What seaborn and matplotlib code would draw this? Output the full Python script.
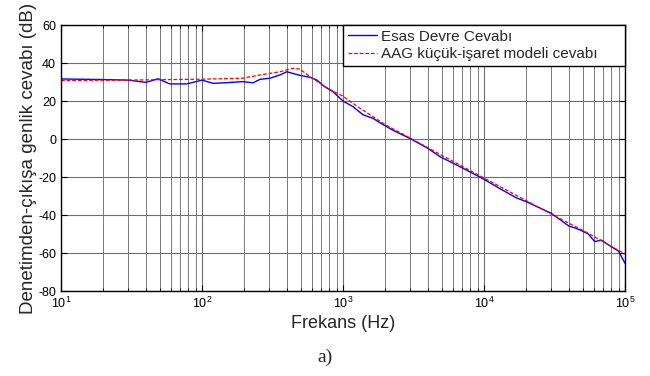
import numpy as np
import pandas as pd
import seaborn as sns
import matplotlib.pyplot as plt
from matplotlib.ticker import LogLocator, NullFormatter

# frequency response
freq_esas = [10, 20, 30, 40, 49, 59, 78, 100, 120, 146, 195, 230, 258, 303, 357, 400,
             495, 583, 654, 742, 850, 1000, 1180, 1385, 1630, 1890, 2250, 3000, 4000,
             4880, 6770, 10000, 12900, 17000, 20000, 30000, 40000, 45000, 50000, 55000,
             61000, 68000, 80000, 90000, 100000]
db_esas = [31.6, 31.3, 31.0, 29.8, 31.7, 29.0, 29.0, 31.0, 29.3, 29.6, 30.2, 29.6, 31.4,
           32.0, 33.7, 35.4, 33.5, 32.5, 31.0, 27.5, 24.9, 20.0, 17.0, 12.8, 10.9, 7.9,
           4.7, 0.2, -4.9, -9.3, -14.6, -21.2, -26.0, -31.0, -33.0, -39.1, -45.8, -47.0,
           -48.5, -50.0, -54.0, -53.2, -56.7, -59.0, -65.4]

freq_aag = [10, 30, 100, 195, 258, 357, 442, 495, 583, 687, 780, 1000, 1320, 1630,
            2000, 3000, 5000, 10000, 20000, 30000, 50000, 100000]
db_aag = [30.8, 31.0, 31.5, 32.0, 33.7, 35.4, 37.2, 36.8, 32.8, 29.3, 26.7, 22.5, 16.2,
          11.8, 7.5, 0.5, -8.5, -20.5, -32.5, -39.5, -48.0, -60.5]

label_esas = 'Esas Devre Cevabı'
label_aag = 'AAG küçük-işaret modeli cevabı'

sns.set_style('ticks')
plt.rcParams['font.family'] = ['Liberation Sans', 'DejaVu Sans']
plt.rcParams['mathtext.default'] = 'regular'
plt.rcParams['axes.unicode_minus'] = False

fig = plt.figure(figsize=(6.5, 3.76), dpi=100)
ax = fig.add_axes([0.0938, 0.226, 0.8677, 0.7075])

df_esas = pd.DataFrame({'f': freq_esas, 'db': db_esas})
df_aag = pd.DataFrame({'f': freq_aag, 'db': db_aag})
sns.lineplot(data=df_esas, x='f', y='db', ax=ax, color='#0000ff', lw=1.0, label=label_esas)
sns.lineplot(data=df_aag, x='f', y='db', ax=ax, color='#ff0000', lw=0.9,
             linestyle=(0, (3, 1.5)), label=label_aag)

ax.set_xscale('log')
ax.set_xlim(10, 1e5)
ax.set_ylim(-80, 60)
ax.set_yticks(np.arange(-80, 61, 20))
ax.xaxis.set_minor_locator(LogLocator(base=10, subs=np.arange(2, 10)))
ax.xaxis.set_minor_formatter(NullFormatter())

ax.grid(True, which='major', color='#6e6e6e', lw=0.8)
ax.grid(True, which='minor', axis='x', color='#7a7a7a', lw=0.7)
ax.set_axisbelow(True)

for s in ax.spines.values():
    s.set_color('black')
    s.set_linewidth(1.0)
ax.tick_params(which='both', direction='in', top=True, right=True, labelsize=9,
               colors='black')
ax.tick_params(which='major', length=4)
ax.tick_params(which='minor', length=2.5)

ax.set_xlabel('Frekans (Hz)', fontsize=13, labelpad=3)
ax.set_ylabel('Denetimden-çıkışa genlik cevabı (dB)', fontsize=13.5, labelpad=1)

leg = ax.legend(loc='upper right', bbox_to_anchor=(0.5, 0.0, 0.5, 1.0), mode='expand',
                fontsize=11, frameon=True, fancybox=False, framealpha=1,
                edgecolor='black', borderaxespad=0, handlelength=1.9,
                handletextpad=0.3, borderpad=0.3, labelspacing=0.25)
leg.get_frame().set_linewidth(1.0)

fig.text(0.5, 0.05, 'a)', ha='center', va='center', fontsize=14,
         family=['Liberation Serif', 'DejaVu Serif'])

fig.savefig('out.png', dpi=100)
